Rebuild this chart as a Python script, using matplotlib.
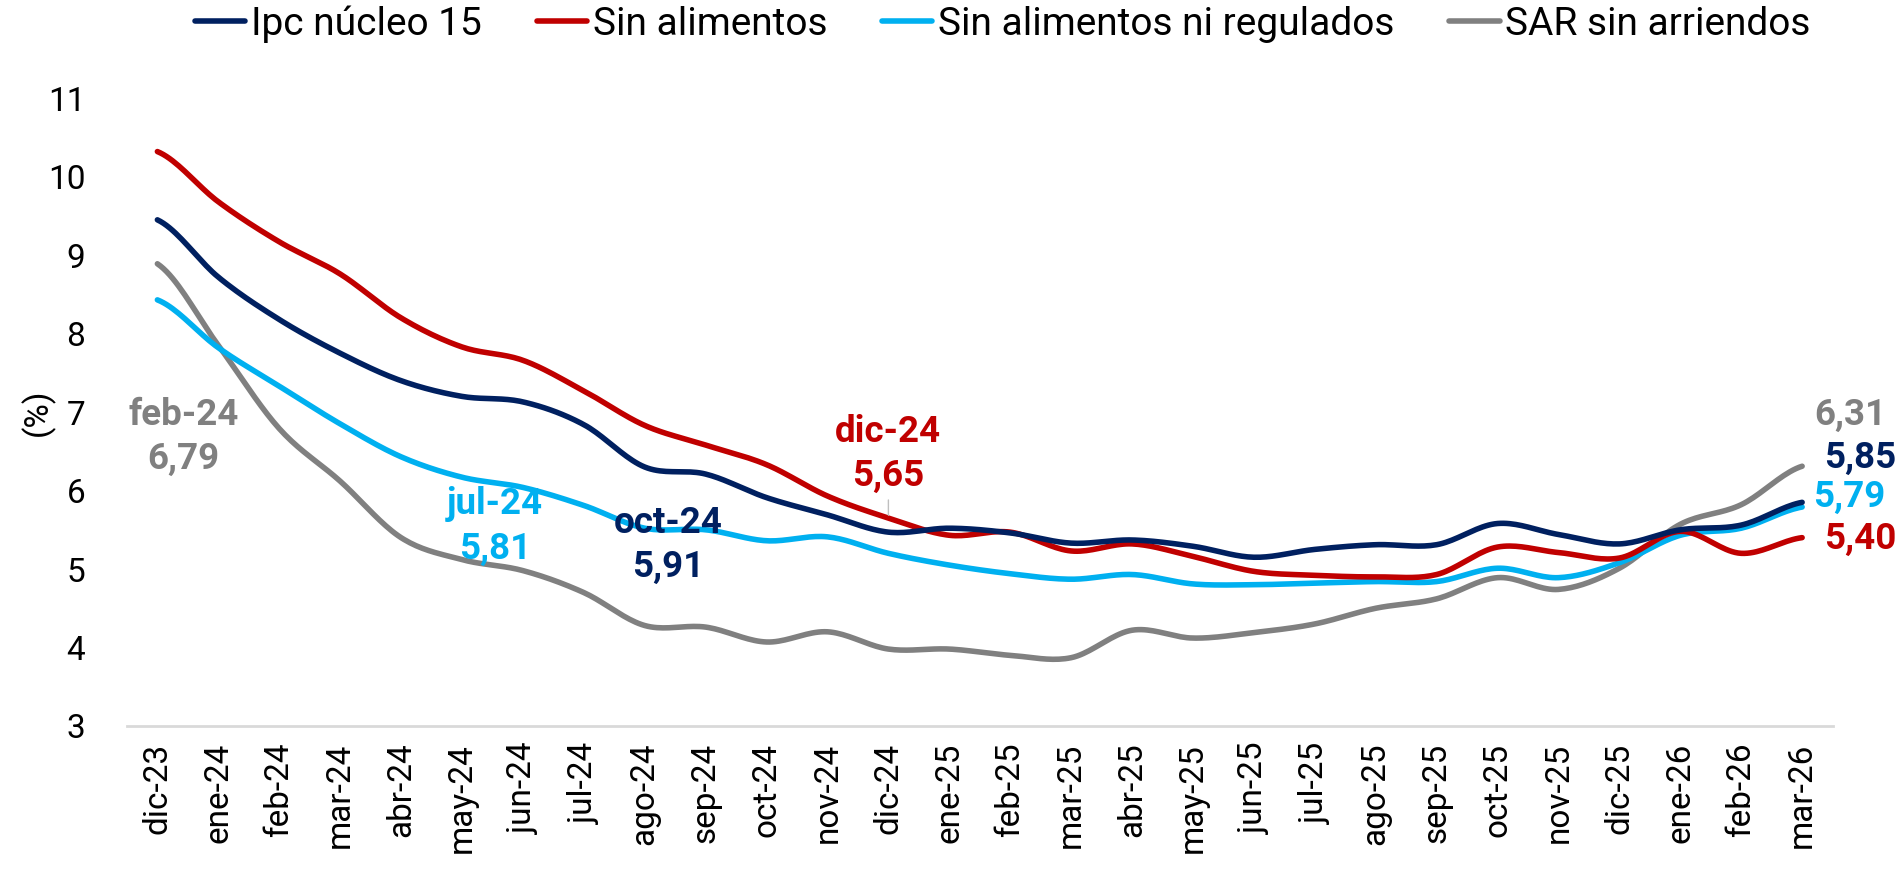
import numpy as np
import matplotlib
matplotlib.use("Agg")
import matplotlib.pyplot as plt

plt.rcParams['font.family'] = ['Roboto', 'DejaVu Sans']

months = ['dic-23', 'ene-24', 'feb-24', 'mar-24', 'abr-24', 'may-24', 'jun-24',
          'jul-24', 'ago-24', 'sep-24', 'oct-24', 'nov-24', 'dic-24', 'ene-25',
          'feb-25', 'mar-25', 'abr-25', 'may-25', 'jun-25', 'jul-25', 'ago-25',
          'sep-25', 'oct-25', 'nov-25', 'dic-25', 'ene-26', 'feb-26', 'mar-26']

ipc_nucleo = [9.45, 8.72, 8.18, 7.75, 7.40, 7.20, 7.13, 6.84, 6.30, 6.21, 5.91, 5.69,
              5.47, 5.52, 5.46, 5.33, 5.37, 5.29, 5.15, 5.25, 5.31, 5.31, 5.58, 5.44,
              5.32, 5.50, 5.56, 5.85]
sin_alim = [10.32, 9.68, 9.17, 8.76, 8.20, 7.83, 7.66, 7.27, 6.83, 6.58, 6.33, 5.93,
            5.65, 5.43, 5.47, 5.23, 5.32, 5.16, 4.97, 4.92, 4.90, 4.93, 5.28, 5.21,
            5.14, 5.48, 5.20, 5.40]
sin_alim_reg = [8.43, 7.82, 7.33, 6.85, 6.43, 6.17, 6.04, 5.81, 5.52, 5.50, 5.36, 5.41,
                5.20, 5.05, 4.94, 4.87, 4.93, 4.81, 4.80, 4.82, 4.84, 4.84, 5.01, 4.89,
                5.08, 5.43, 5.52, 5.79]
sar_sin_arr = [8.89, 7.85, 6.79, 6.12, 5.40, 5.12, 4.98, 4.70, 4.28, 4.26, 4.07, 4.20,
               3.98, 3.98, 3.90, 3.87, 4.22, 4.12, 4.19, 4.30, 4.50, 4.62, 4.89, 4.74,
               5.01, 5.57, 5.82, 6.31]

navy = '#002060'
red = '#C00000'
cyan = '#00B0F0'
grey = '#808080'


def smooth(y, n=20):
    # catmull-rom so the lines look like excel "smoothed line"
    y = np.asarray(y, dtype=float)
    x = np.arange(len(y), dtype=float)
    p = np.concatenate([[y[0]], y, [y[-1]]])
    xs, ys = [], []
    t = np.linspace(0, 1, n, endpoint=False)
    for i in range(len(y) - 1):
        p0, p1, p2, p3 = p[i], p[i + 1], p[i + 2], p[i + 3]
        seg = 0.5 * (2 * p1 + (-p0 + p2) * t + (2 * p0 - 5 * p1 + 4 * p2 - p3) * t ** 2
                     + (-p0 + 3 * p1 - 3 * p2 + p3) * t ** 3)
        xs.append(x[i] + t)
        ys.append(seg)
    xs.append([x[-1]])
    ys.append([y[-1]])
    return np.concatenate(xs), np.concatenate(ys)


fig = plt.figure(figsize=(19.03, 8.69), dpi=100)
ax = fig.add_axes([0.0667, 0.1646, 0.8963, 0.7224])

series = [(ipc_nucleo, navy, 'Ipc núcleo 15'),
          (sin_alim, red, 'Sin alimentos'),
          (sin_alim_reg, cyan, 'Sin alimentos ni regulados'),
          (sar_sin_arr, grey, 'SAR sin arriendos')]
# draw order: grey at back
for vals, col, lab in [series[3], series[2], series[1], series[0]]:
    xs, ys = smooth(vals)
    ax.plot(xs, ys, color=col, lw=4, label=lab, solid_capstyle='round')

ax.set_xlim(-0.5, len(months) - 0.5)
ax.set_ylim(3, 11)
ax.set_yticks(range(3, 12))
ax.set_xticks(range(len(months)))
ax.set_xticklabels(months, rotation=90)
ax.tick_params(axis='both', length=0, labelsize=24)
ax.tick_params(axis='y', pad=30)
ax.tick_params(axis='x', pad=12)
for s in ['top', 'right', 'left']:
    ax.spines[s].set_visible(False)
ax.spines['bottom'].set_color('#D9D9D9')
ax.spines['bottom'].set_linewidth(2)
ax.set_ylabel('(%)', fontsize=24, labelpad=-5)

handles, labels = ax.get_legend_handles_labels()
order = [3, 2, 1, 0]
fig.legend([handles[i] for i in order], [labels[i] for i in order],
           loc='center', bbox_to_anchor=(0.527, 0.972), ncol=4, frameon=False,
           fontsize=28, handlelength=1.3, handletextpad=0.15, columnspacing=1.4)

# labels for highlighted months
fs = 26.5
ls = 1.3
ax.annotate('feb-24\n6,79', xy=(2, sar_sin_arr[2]), xytext=(-69, -6), textcoords='offset points',
            color=grey, fontsize=fs, fontweight='bold', ha='center', va='center', linespacing=ls)
ax.annotate('jul-24\n5,81', xy=(7, sin_alim_reg[7]), xytext=(-64, -15), textcoords='offset points',
            color=cyan, fontsize=fs, fontweight='bold', ha='center', va='center', linespacing=ls)
ax.annotate('oct-24\n5,91', xy=(10, ipc_nucleo[10]), xytext=(-71, -34), textcoords='offset points',
            color=navy, fontsize=fs, fontweight='bold', ha='center', va='center', linespacing=ls)
ax.annotate('dic-24\n5,65', xy=(12, sin_alim[12]), xytext=(0, 46), textcoords='offset points',
            color=red, fontsize=fs, fontweight='bold', ha='center', va='center', linespacing=ls)
ax.annotate('', xy=(12, sin_alim[12]), xytext=(0, 15), textcoords='offset points',
            arrowprops=dict(arrowstyle='-', color='#BFBFBF', lw=1))

# end values
ax.annotate('6,31', xy=(27, sar_sin_arr[27]), xytext=(35, 37), textcoords='offset points',
            color=grey, fontsize=fs, fontweight='bold', ha='center', va='center')
ax.annotate('5,85', xy=(27, ipc_nucleo[27]), xytext=(42, 32), textcoords='offset points',
            color=navy, fontsize=fs, fontweight='bold', ha='center', va='center')
ax.annotate('5,79', xy=(27, sin_alim_reg[27]), xytext=(34, 7), textcoords='offset points',
            color=cyan, fontsize=fs, fontweight='bold', ha='center', va='center')
ax.annotate('5,40', xy=(27, sin_alim[27]), xytext=(42, -1), textcoords='offset points',
            color=red, fontsize=fs, fontweight='bold', ha='center', va='center')

fig.savefig('out.png', dpi=100)
